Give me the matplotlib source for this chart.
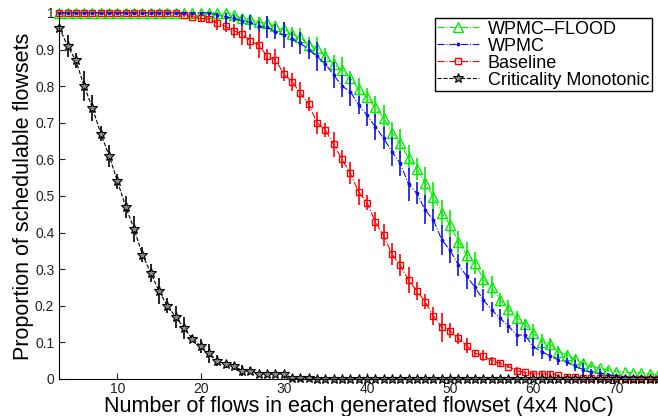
import matplotlib
matplotlib.use("Agg")
import matplotlib.pyplot as plt

plt.rcParams['font.family'] = ['Liberation Sans', 'DejaVu Sans']

# flows per flowset (4x4 NoC)
flows = list(range(3, 76))

flood = [1, 1, 1, 1, 1, 1, 1, 1, 1, 1,
         1, 1, 1, 1, 1, 1, 1, 1, 1, 1,
         1, 0.995, 0.985, 0.983, 0.974, 0.972, 0.963, 0.955, 0.942, 0.933,
         0.913, 0.904, 0.883, 0.86, 0.844, 0.822, 0.792, 0.771, 0.742, 0.714,
         0.673, 0.644, 0.603, 0.573, 0.535, 0.498, 0.453, 0.421, 0.375, 0.339,
         0.316, 0.273, 0.25, 0.216, 0.19, 0.166, 0.15, 0.125, 0.102, 0.096,
         0.075, 0.066, 0.054, 0.043, 0.036, 0.029, 0.025, 0.02, 0.018, 0.017,
         0.017, 0.014, 0.012]
flood_err = [0, 0, 0, 0, 0, 0, 0, 0, 0, 0,
             0, 0, 0, 0, 0, 0, 0, 0, 0, 0,
             0, 0.005, 0.01, 0.01, 0.015, 0.02, 0.015, 0.02, 0.02, 0.025,
             0.02, 0.03, 0.02, 0.025, 0.035, 0.02, 0.03, 0.025, 0.03, 0.035,
             0.03, 0.04, 0.035, 0.03, 0.045, 0.04, 0.035, 0.04, 0.03, 0.035,
             0.03, 0.025, 0.03, 0.02, 0.025, 0.02, 0.015, 0.025, 0.02, 0.015,
             0.015, 0.01, 0.01, 0.01, 0.005, 0.005, 0.005, 0, 0, 0,
             0, 0, 0]

wpmc = [1, 1, 1, 1, 1, 1, 1, 1, 1, 1,
        1, 1, 1, 1, 1, 1, 1, 1, 1, 0.995,
        0.99, 0.985, 0.979, 0.974, 0.963, 0.961, 0.949, 0.94, 0.928, 0.917,
        0.90, 0.881, 0.86, 0.831, 0.80, 0.785, 0.749, 0.721, 0.689, 0.658,
        0.621, 0.589, 0.532, 0.507, 0.462, 0.434, 0.38, 0.352, 0.311, 0.281,
        0.25, 0.216, 0.189, 0.166, 0.145, 0.12, 0.12, 0.088, 0.075, 0.063,
        0.052, 0.046, 0.036, 0.025, 0.018, 0.016, 0.012, 0.008, 0.006, 0.005,
        0.005, 0.004, 0.004]
wpmc_err = [0, 0, 0, 0, 0, 0, 0, 0, 0, 0,
            0, 0, 0, 0, 0, 0, 0, 0, 0, 0.01,
            0.02, 0.01, 0.015, 0.02, 0.015, 0.03, 0.02, 0.035, 0.02, 0.03,
            0.025, 0.04, 0.02, 0.035, 0.03, 0.04, 0.025, 0.03, 0.035, 0.03,
            0.04, 0.035, 0.045, 0.03, 0.04, 0.03, 0.04, 0.035, 0.03, 0.035,
            0.025, 0.03, 0.02, 0.025, 0.02, 0.03, 0.02, 0.025, 0.02, 0.015,
            0.015, 0.01, 0.015, 0.02, 0.01, 0.01, 0.005, 0.005, 0, 0,
            0, 0, 0]

baseline = [1, 1, 1, 1, 1, 1, 1, 1, 1, 1,
            1, 1, 1, 1, 1, 0.995, 0.99, 0.985, 0.983, 0.972,
            0.963, 0.951, 0.942, 0.922, 0.913, 0.881, 0.872, 0.833, 0.812, 0.781,
            0.751, 0.70, 0.68, 0.641, 0.60, 0.562, 0.511, 0.482, 0.43, 0.392,
            0.341, 0.311, 0.27, 0.241, 0.211, 0.172, 0.141, 0.132, 0.111, 0.091,
            0.07, 0.064, 0.05, 0.043, 0.034, 0.023, 0.018, 0.014, 0.014, 0.014,
            0.01, 0.006, 0.005, 0.004, 0.003, 0.003, 0.002, 0.002, 0.001, 0.001,
            0.001, 0.001, 0.001]
baseline_err = [0, 0, 0, 0, 0, 0, 0, 0, 0, 0,
                0, 0, 0, 0, 0, 0.005, 0.005, 0.01, 0.01, 0.02,
                0.015, 0.02, 0.03, 0.02, 0.035, 0.02, 0.03, 0.02, 0.025, 0.03,
                0.02, 0.03, 0.02, 0.035, 0.025, 0.03, 0.035, 0.02, 0.025, 0.03,
                0.03, 0.03, 0.035, 0.025, 0.02, 0.025, 0.04, 0.02, 0.015, 0.02,
                0.01, 0.015, 0.01, 0.01, 0.005, 0.01, 0.005, 0.005, 0.005, 0.005,
                0, 0, 0, 0, 0, 0, 0, 0, 0, 0,
                0, 0, 0]

crit = [0.96, 0.91, 0.87, 0.80, 0.74, 0.67, 0.61, 0.54, 0.47, 0.41,
        0.34, 0.29, 0.24, 0.20, 0.17, 0.14, 0.11, 0.09, 0.07, 0.05,
        0.04, 0.035, 0.023, 0.023, 0.014, 0.014, 0.014, 0.014, 0.003, 0.002,
        0.002, 0.001, 0.001, 0, 0, 0, 0, 0, 0, 0,
        0, 0, 0, 0, 0, 0, 0, 0, 0, 0,
        0, 0, 0, 0, 0, 0, 0, 0, 0, 0,
        0, 0, 0, 0, 0, 0, 0, 0, 0, 0,
        0, 0, 0]
crit_err = [0.01, 0.03, 0.02, 0.04, 0.035, 0.02, 0.03, 0.02, 0.03, 0.035,
            0.02, 0.025, 0.035, 0.02, 0.03, 0.03, 0.01, 0.02, 0.025, 0.015,
            0.01, 0.01, 0.015, 0.01, 0.005, 0.005, 0.005, 0.005, 0, 0,
            0, 0, 0, 0, 0, 0, 0, 0, 0, 0,
            0, 0, 0, 0, 0, 0, 0, 0, 0, 0,
            0, 0, 0, 0, 0, 0, 0, 0, 0, 0,
            0, 0, 0, 0, 0, 0, 0, 0, 0, 0,
            0, 0, 0]

fig = plt.figure(figsize=(6.58, 4.16), dpi=100)
ax = fig.add_axes([0.09, 0.089, 0.91, 0.88])

# green, red, blue, black -> blue dots end up on top of red squares
ax.errorbar(flows, flood, yerr=flood_err, fmt='none', ecolor='#00ee00', elinewidth=1.2, capsize=0)
h_flood, = ax.plot(flows, flood, linestyle='-.', color='#00ee00', lw=0.8, marker='^',
                   markersize=6.5, mfc='none', mec='#00ee00', mew=1.0, clip_on=False,
                   label='WPMC\u2013FLOOD')
ax.errorbar(flows, baseline, yerr=baseline_err, fmt='none', ecolor='red', elinewidth=1.2, capsize=0)
h_base, = ax.plot(flows, baseline, linestyle='-.', color='red', lw=0.8, marker='s',
                  markersize=5, mfc='none', mec='red', mew=1.0, clip_on=False,
                  label='Baseline')
ax.errorbar(flows, wpmc, yerr=wpmc_err, fmt='none', ecolor='#1010ee', elinewidth=1.2, capsize=0)
h_wpmc, = ax.plot(flows, wpmc, linestyle='-.', color='#1010ee', lw=0.8, marker='.',
                  markersize=3.5, clip_on=False, label='WPMC')
ax.errorbar(flows, crit, yerr=crit_err, fmt='none', ecolor='black', elinewidth=1.2, capsize=0)
h_crit, = ax.plot(flows, crit, linestyle='--', color='black', lw=0.8, marker='*',
                  markersize=7, mfc='#888888', mec='black', mew=0.8, clip_on=False,
                  label='Criticality Monotonic')

ax.set_xlim(3, 75)
ax.set_ylim(0, 1)
ax.set_xticks([10, 20, 30, 40, 50, 60, 70])
ax.set_yticks([0, 0.1, 0.2, 0.3, 0.4, 0.5, 0.6, 0.7, 0.8, 0.9, 1])
ax.set_yticklabels(['0', '0.1', '0.2', '0.3', '0.4', '0.5', '0.6', '0.7', '0.8', '0.9', '1'])
ax.tick_params(direction='in', labelsize=10, length=4, colors='#222222')
ax.tick_params(axis='x', pad=2)
ax.spines['top'].set_visible(False)
ax.spines['right'].set_visible(False)

ax.set_xlabel('Number of flows in each generated flowset (4x4 NoC)', fontsize=15.5, labelpad=0)
ax.set_ylabel('Proportion of schedulable flowsets', fontsize=15.5, labelpad=1)

leg = ax.legend(handles=[h_flood, h_wpmc, h_base, h_crit], loc='upper right',
                bbox_to_anchor=(0.99, 0.986), fontsize=13, fancybox=False,
                framealpha=1, edgecolor='black', handlelength=2.3,
                borderaxespad=0, labelspacing=0.0, borderpad=0.15, handletextpad=0.5)
leg.get_frame().set_linewidth(1.0)

fig.savefig('out.png', dpi=100)
